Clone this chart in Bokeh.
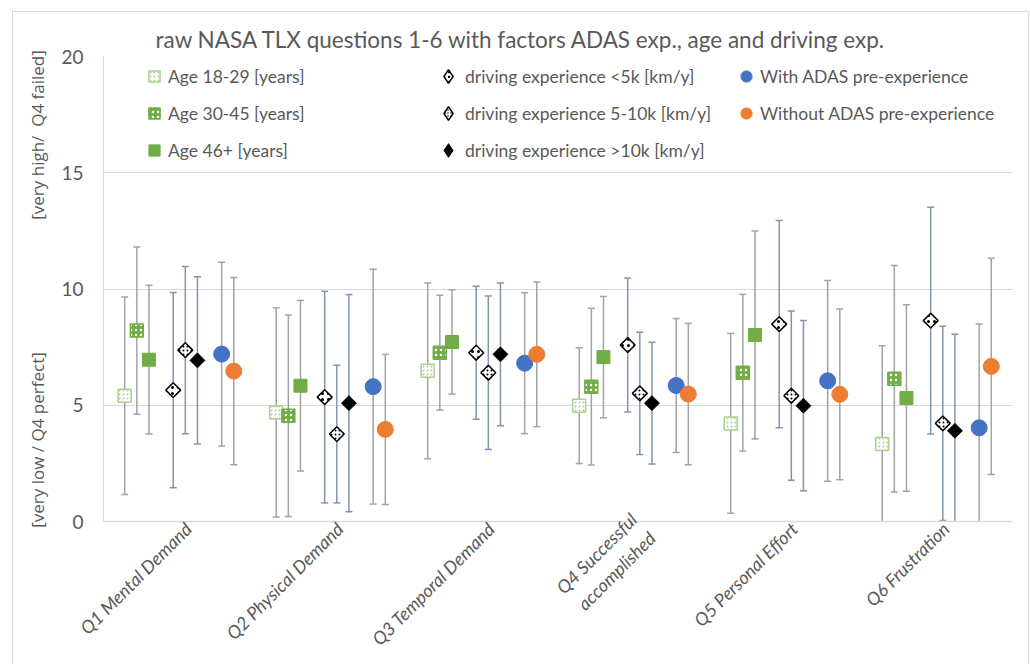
import numpy as np
from bokeh.plotting import figure
from bokeh.models import ColumnDataSource, Range1d, FixedTicker, Legend, LegendItem
from bokeh.embed import file_html
from bokeh.resources import INLINE

# ---------------- data ----------------
questions = ["Q1 Mental Demand", "Q2 Physical Demand", "Q3 Temporal Demand",
             "Q4 Successful\naccomplished", "Q5 Personal Effort", "Q6 Frustration"]

series_names = ["Age 18-29 [years]", "Age 30-45 [years]", "Age 46+ [years]",
                "driving experience <5k [km/y]", "driving experience 5-10k [km/y]",
                "driving experience >10k [km/y]",
                "With ADAS pre-experience", "Without ADAS pre-experience"]

age_18_29_mean = [5.41, 4.69, 6.48, 4.98, 4.22, 3.33]
age_18_29_sd = [4.25, 4.50, 3.78, 2.49, 3.87, 4.23]
age_30_45_mean = [8.21, 4.55, 7.26, 5.80, 6.40, 6.14]
age_30_45_sd = [3.60, 4.33, 2.47, 3.37, 3.37, 4.87]
age_46_mean = [6.96, 5.84, 7.72, 7.07, 8.02, 5.31]
age_46_sd = [3.20, 3.67, 2.24, 2.61, 4.47, 4.01]
drv_lt5k_mean = [5.65, 5.35, 7.26, 7.59, 8.49, 8.64]
drv_lt5k_sd = [4.20, 4.55, 2.86, 2.88, 4.46, 4.88]
drv_5_10k_mean = [7.37, 3.76, 6.40, 5.51, 5.41, 4.22]
drv_5_10k_sd = [3.60, 2.96, 3.30, 2.63, 3.64, 4.18]
drv_gt10k_mean = [6.93, 5.09, 7.19, 5.09, 4.98, 3.90]
drv_gt10k_sd = [3.60, 4.67, 3.07, 2.62, 3.66, 4.15]
adas_with_mean = [7.20, 5.80, 6.81, 5.85, 6.05, 4.03]
adas_with_sd = [3.95, 5.05, 3.03, 2.88, 4.32, 4.46]
adas_without_mean = [6.47, 3.96, 7.19, 5.48, 5.47, 6.67]
adas_without_sd = [4.03, 3.23, 3.11, 3.04, 3.67, 4.65]

y_ticks = [0, 5, 10, 15, 20]

means = [age_18_29_mean, age_30_45_mean, age_46_mean, drv_lt5k_mean,
         drv_5_10k_mean, drv_gt10k_mean, adas_with_mean, adas_without_mean]
sds = [age_18_29_sd, age_30_45_sd, age_46_sd, drv_lt5k_sd,
       drv_5_10k_sd, drv_gt10k_sd, adas_with_sd, adas_without_sd]

# ---------------- styles ----------------
GREEN = "#70ad47"
LGREEN = "#a9d18e"
styles = [
    dict(marker="square", size=13, angle=0, fill_color="white", line_color=LGREEN, line_width=1.5,
         hatch_pattern="dot", hatch_color=LGREEN, hatch_scale=4, hatch_weight=2.5),
    dict(marker="square", size=13, angle=0, fill_color=GREEN, line_color=GREEN, line_width=1.5,
         hatch_pattern="dot", hatch_color="white", hatch_scale=5, hatch_weight=2),
    dict(marker="square", size=13, angle=0, fill_color=GREEN, line_color=GREEN, line_width=1),
    dict(marker="square", size=10.5, angle=np.pi / 4, fill_color="white", line_color="black", line_width=1.5,
         hatch_pattern="dot", hatch_color="black", hatch_scale=6, hatch_weight=1.5),
    dict(marker="square", size=10.5, angle=np.pi / 4, fill_color="white", line_color="black", line_width=1.5,
         hatch_pattern="dot", hatch_color="black", hatch_scale=4, hatch_weight=2.5),
    dict(marker="square", size=10.5, angle=np.pi / 4, fill_color="black", line_color="black", line_width=1),
    dict(marker="circle", size=16, angle=0, fill_color="#4472c4", line_color="#4472c4", line_width=1),
    dict(marker="circle", size=16, angle=0, fill_color="#ed7d31", line_color="#ed7d31", line_width=1),
]
err_colors = ["#a3a3a3"] * 3 + ["#8494ae"] * 3 + ["#a3a3a3"] * 2
slots = [0, 1, 2, 4, 5, 6, 8, 9]
SLOT_W = 0.08

FONT = "Lato"
GREY = "#595959"

# figure placed at (13, 12) inside the window, with a light chart-area outline
p = figure(width=1015, height=652, output_backend="svg", toolbar_location=None,
           x_range=Range1d(0, 6), y_range=Range1d(0, 20),
           min_border_left=90, min_border_right=16, min_border_top=44, min_border_bottom=143)
p.margin = (12, 0, 0, 13)
p.styles = {"outline": "1.5px solid #d9d9d9"}

p.title.text = "raw NASA TLX questions 1-6 with factors ADAS exp., age and driving exp."
p.title.align = "left"
p.title.offset = 52
p.title.text_font = FONT
p.title.text_font_size = "22.5px"
p.title.text_font_style = "normal"
p.title.text_color = GREY
p.title.standoff = 8

p.outline_line_color = None
p.background_fill_color = "white"
p.border_fill_color = "white"

renderers = []
sources = []
for k in range(8):
    xs = [i + 0.5 + (slots[k] - 4.5) * SLOT_W for i in range(len(questions))]
    m = np.array(means[k])
    s = np.array(sds[k])
    src = ColumnDataSource(dict(x=xs, y=m, hi=m + s, lo=m - s))
    sources.append(src)
    p.segment(x0="x", y0="lo", x1="x", y1="hi", source=src, line_color=err_colors[k], line_width=1.5)
    p.scatter(x="x", y="hi", source=src, marker="dash", size=7, line_color=err_colors[k], line_width=1.5)
    p.scatter(x="x", y="lo", source=src, marker="dash", size=7, line_color=err_colors[k], line_width=1.5)

for k in range(8):
    r = p.scatter(x="x", y="y", source=sources[k], **styles[k])
    renderers.append(r)

# hidden legend proxies for the diamond series (legend ignores marker angle)
legend_renderers = list(renderers)
for k in range(3, 6):
    st = dict(styles[k])
    st["marker"] = "diamond"
    st["angle"] = 0
    st.pop("size")
    if "hatch_scale" in st:
        st["hatch_scale"] = st["hatch_scale"] - 1
    legend_renderers[k] = p.scatter(x="x", y="y", source=sources[k], size=14, visible=False, **st)

# axes
p.xgrid.grid_line_color = None
p.ygrid.grid_line_color = "#d9d9d9"
p.ygrid.grid_line_width = 1
p.yaxis.ticker = FixedTicker(ticks=y_ticks)
LBL_SHIFT = 0.06
p.xaxis.ticker = FixedTicker(ticks=[i + 0.5 + LBL_SHIFT for i in range(len(questions))])
p.xaxis.major_label_overrides = {i + 0.5 + LBL_SHIFT: q for i, q in enumerate(questions)}
p.xaxis.major_label_orientation = np.pi / 4
p.xaxis.major_label_text_font = FONT
p.xaxis.major_label_text_font_style = "italic"
p.xaxis.major_label_text_font_size = "18px"
p.xaxis.major_label_text_color = GREY
p.xaxis.axis_line_color = "#d9d9d9"
p.xaxis.axis_line_width = 1.5
p.xaxis.major_tick_line_color = None
p.xaxis.minor_tick_line_color = None
p.xaxis.major_tick_out = 0
p.xaxis.major_label_standoff = 4

p.yaxis.axis_line_color = "#d9d9d9"
p.yaxis.major_tick_line_color = None
p.yaxis.minor_tick_line_color = None
p.yaxis.major_tick_out = 0
p.yaxis.major_label_standoff = 20
p.yaxis.major_label_text_font = FONT
p.yaxis.major_label_text_font_size = "19px"
p.yaxis.major_label_text_color = GREY
nb = "\u00a0"
p.yaxis.axis_label = "[very low / Q4 perfect]" + nb * 30 + "[very high/" + nb * 2 + "Q4 failed]"
p.yaxis.axis_label_text_font = "Open Sans"
p.yaxis.axis_label_text_font_size = "17px"
p.yaxis.axis_label_text_font_style = "normal"
p.yaxis.axis_label_text_color = GREY
p.yaxis.axis_label_standoff = 9

# legends: three columns (x, y of bottom-left corner in frame pixels, glyph box, spacing, standoff)
cols = [(0, 3, 37, 357, 28, 9, 0), (3, 6, 328, 354, 34, 3, -5), (6, 8, 629, 394, 28, 9, 0)]
for a, b, xloc, yloc, gsz, spc, stand in cols:
    items = [LegendItem(label=series_names[k], renderers=[legend_renderers[k]]) for k in range(a, b)]
    leg = Legend(items=items, location=(xloc, yloc), orientation="vertical",
                 glyph_width=gsz, glyph_height=gsz, label_standoff=stand, spacing=spc,
                 padding=0, margin=0, border_line_color=None, background_fill_alpha=0,
                 label_text_font=FONT, label_text_font_size="17.5px", label_text_color=GREY,
                 label_height=20)
    p.add_layout(leg)

open("out.html", "w").write(file_html(p, INLINE))
